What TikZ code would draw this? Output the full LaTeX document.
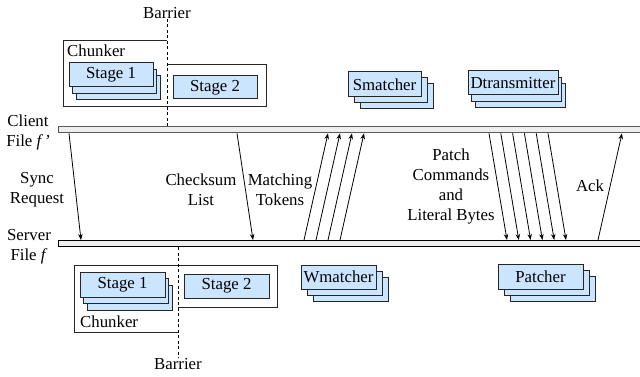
\documentclass[tikz,border=0pt]{standalone}
\usepackage{fontspec}
\setmainfont{Liberation Serif}
\usetikzlibrary{shadows,arrows.meta}
\definecolor{boxblue}{RGB}{204,229,255}
\definecolor{barfill}{RGB}{238,238,238}
\begin{document}
\begin{tikzpicture}[x=1pt,y=-1pt,
  font=\fontsize{16.8}{20}\selectfont,
  proc/.style={draw=black!85, line width=1pt, fill=boxblue, inner sep=0pt},
  stackA/.style={proc, double copy shadow={shadow xshift=3.5pt, shadow yshift=-6.5pt}},
  stackB/.style={proc, double copy shadow={shadow xshift=6pt, shadow yshift=-6pt}},
  frame/.style={draw=black!85, line width=1pt},
  bar/.style={draw=#1, line width=1.3pt, fill=barfill, inner sep=0pt, minimum height=6pt, minimum width=600pt, anchor=north west},
  barrierline/.style={line width=0.9pt, dash pattern=on 3pt off 2.5pt},
  msg/.style={line width=0.8pt, -{Stealth[length=6pt,width=4.5pt]}},
  lbl/.style={align=center, inner sep=0pt}]
\useasboundingbox (0,0) rectangle (640,377);

% time lines of the two hosts
\node[bar=black!65] (client) at (58,126) {};
\node[bar=black] (server) at (58,240) {};
\node[lbl] (clientlbl) at (28,132) {Client\\File \textit{f\,'}};
\node[lbl] (serverlbl) at (29,246.5) {Server\\File \textit{f}};

% client side chunker and its barrier
\draw[frame] (167,41) -- (63,41) -- (63,107) -- (266,107) -- (266,65) -- (167,65);
\node[lbl, anchor=west] (chunkc) at (67,51) {Chunker};
\node[stackA, minimum width=84pt, minimum height=24pt] (s1c) at (111,75) {Stage 1};
\node[proc, minimum width=84pt, minimum height=23pt] (s2c) at (215,87.5) {Stage 2};
\node[lbl] (barc) at (167,13) {Barrier};
\draw[barrierline] (barc.south) -- (barc.south |- client.north);

% client side workers
\node[stackB, minimum width=73pt, minimum height=25pt] (smatch) at (384.5,84.5) {Smatcher};
\node[stackA, minimum width=90pt, minimum height=24pt] (dtrans) at (513,83) {Dtransmitter};

% server side chunker and its barrier
\draw[frame] (178,332) -- (74,332) -- (74,265) -- (277,265) -- (277,307) -- (178,307);
\node[lbl, anchor=west] (chunks) at (80,322) {Chunker};
\node[stackA, minimum width=85pt, minimum height=25pt] (s1s) at (122.5,284.5) {Stage 1};
\node[proc, minimum width=85pt, minimum height=24pt] (s2s) at (226.5,286) {Stage 2};
\node[lbl] (bars) at (178,364) {Barrier};
\draw[barrierline] (bars.north |- server.south) -- (bars.north);

% server side workers
\node[stackB, minimum width=75pt, minimum height=24pt] (wmatch) at (338.5,277) {Wmatcher};
\node[stackB, minimum width=85pt, minimum height=25pt] (patch) at (540.5,276.5) {Patcher};

% messages between the hosts
\draw[msg] ([xshift=11pt]client.south west) -- ([xshift=23pt]server.north west);
\draw[msg] ([xshift=179pt]client.south west) -- ([xshift=195pt]server.north west);
\foreach \k in {0,1,2,3}
  \draw[msg] ([xshift=246pt+12pt*\k]server.north west) -- ([xshift=270pt+12pt*\k]client.south west);
\foreach \k in {0,...,5}
  \draw[msg] ([xshift=431pt+11.8pt*\k]client.south west) -- ([xshift=449pt+11.8pt*\k]server.north west);
\draw[msg] ([xshift=540pt]server.north west) -- ([xshift=564pt]client.south west);

\node[lbl] (synclbl) at (37,190) {Sync\\Request};
\node[lbl] (cslbl) at (201,190) {Checksum\\List};
\node[lbl] (mtlbl) at (280,190) {Matching\\Tokens};
\node[lbl] (pclbl) at (451,186) {Patch\\Commands\\and\\Literal Bytes};
\node[lbl] (acklbl) at (590,186) {Ack};
\end{tikzpicture}
\end{document}
